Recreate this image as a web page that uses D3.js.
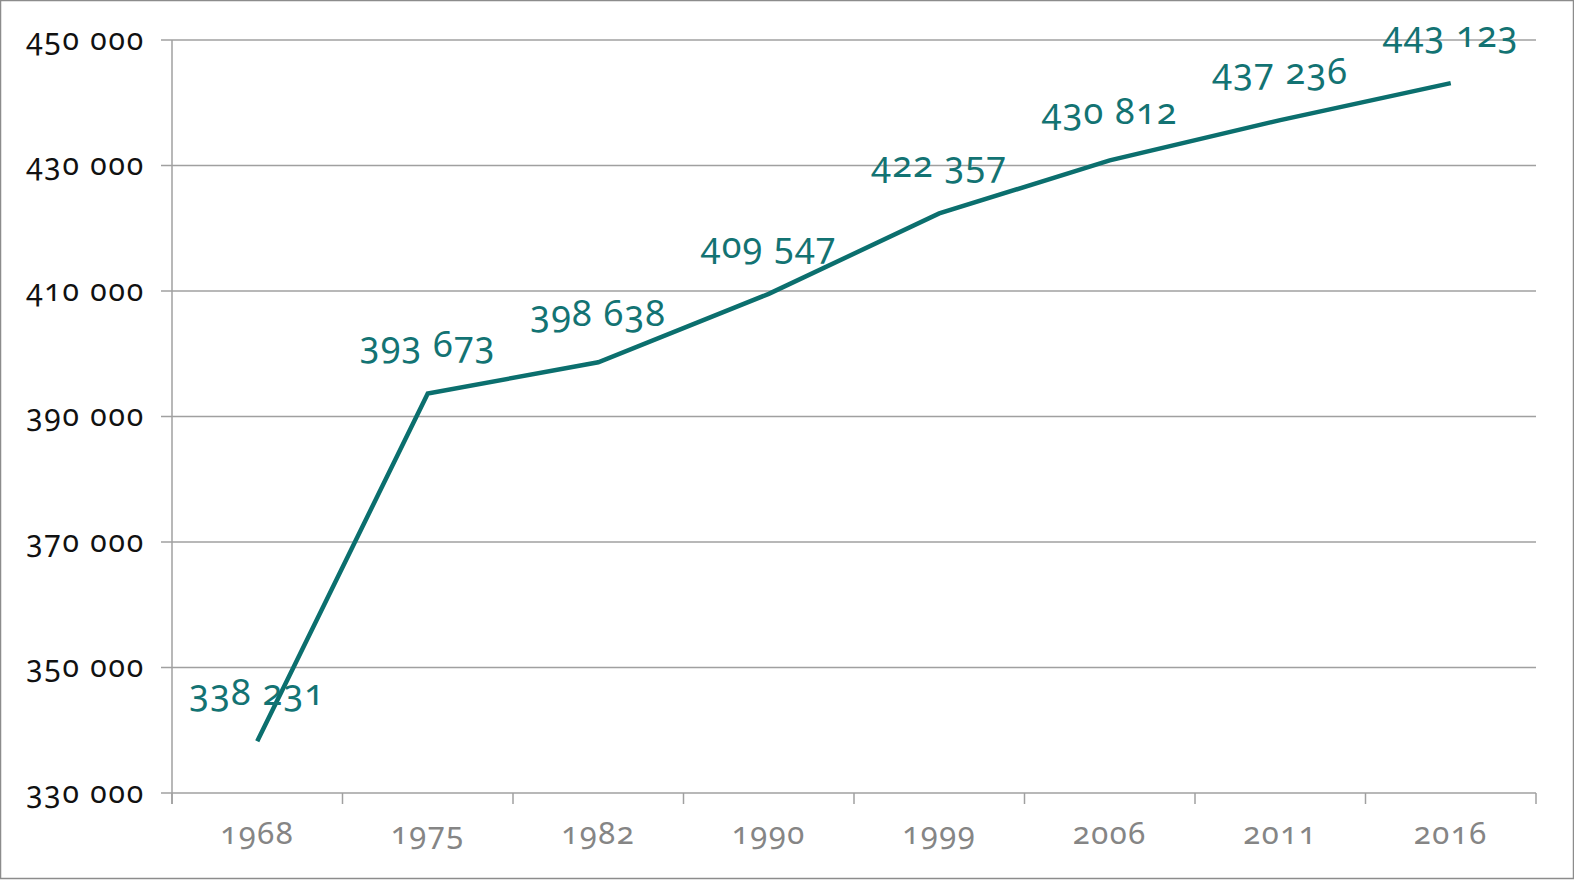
<!DOCTYPE html>
<html>
<head>
<meta charset="utf-8">
<script src="https://cdn.jsdelivr.net/npm/d3@7"></script>
<style>
    body { margin: 0; background: #fff; }
    svg text { font-family: "Noto Sans", "Open Sans", sans-serif; font-variant-numeric: oldstyle-nums; }
</style>
</head>
<body>
<div id="chart"></div>
<script>
    "use strict";

    // data
    const years = ["1968", "1975", "1982", "1990", "1999", "2006", "2011", "2016"];
    const population = [338231, 393673, 398638, 409547, 422357, 430812, 437236, 443123];
    const yTicks = [330000, 350000, 370000, 390000, 410000, 430000, 450000];

    const width = 1574;
    const height = 880;
    const margin = { top: 40, right: 38, bottom: 87, left: 172 };
    const teal = "#0b6f6e";

    // format numbers with a space as thousands separator
    const fmt = (v) => d3.format(",")(v).replace(/,/g, " ");

    const svg = d3.select("#chart").append("svg").attr("width", width).attr("height", height);

    // outer border
    svg.append("rect")
        .attr("x", 0.5).attr("y", 0.5)
        .attr("width", width - 1).attr("height", height - 2)
        .attr("fill", "#fff").attr("stroke", "#8c8c8c").attr("stroke-width", 1.5);

    const x = d3.scaleBand().domain(years).range([margin.left, width - margin.right]);
    const y = d3.scaleLinear().domain([330000, 450000]).range([height - margin.bottom, margin.top]);

    // horizontal gridlines
    svg.append("g")
        .selectAll("line")
        .data(yTicks)
        .join("line")
        .attr("x1", margin.left - 11)
        .attr("x2", width - margin.right)
        .attr("y1", (d) => y(d))
        .attr("y2", (d) => y(d))
        .attr("stroke", "#a0a0a0")
        .attr("stroke-width", 1.5);

    // y axis line
    svg.append("line")
        .attr("x1", margin.left).attr("x2", margin.left)
        .attr("y1", y(450000)).attr("y2", y(330000) + 11)
        .attr("stroke", "#a0a0a0").attr("stroke-width", 1.5);

    // x tick marks at band edges
    const edges = years.map((d) => x(d)).concat([x(years[years.length - 1]) + x.bandwidth()]);
    svg.append("g")
        .selectAll("line")
        .data(edges)
        .join("line")
        .attr("x1", (d) => d).attr("x2", (d) => d)
        .attr("y1", y(330000)).attr("y2", y(330000) + 11)
        .attr("stroke", "#a0a0a0").attr("stroke-width", 1.5);

    // y labels
    svg.append("g")
        .selectAll("text")
        .data(yTicks)
        .join("text")
        .attr("x", 145)
        .attr("y", (d) => y(d))
        .attr("dy", "0.32em")
        .attr("text-anchor", "end")
        .attr("font-size", 30)
        .attr("letter-spacing", 1.8)
        .attr("fill", "#111")
        .text(fmt);

    // x labels
    svg.append("g")
        .selectAll("text")
        .data(years)
        .join("text")
        .attr("x", (d) => x(d) + x.bandwidth() / 2)
        .attr("y", 833)
        .attr("dy", "0.35em")
        .attr("text-anchor", "middle")
        .attr("font-size", 31)
        .attr("letter-spacing", 1.5)
        .attr("fill", "#858585")
        .text((d) => d);

    // line
    const line = d3.line()
        .x((d, i) => x(years[i]) + x.bandwidth() / 2)
        .y((d) => y(d));

    svg.append("path")
        .datum(population)
        .attr("d", line)
        .attr("fill", "none")
        .attr("stroke", teal)
        .attr("stroke-width", 4.5);

    // value labels
    svg.append("g")
        .selectAll("text")
        .data(population)
        .join("text")
        .attr("x", (d, i) => x(years[i]) + x.bandwidth() / 2)
        .attr("y", (d) => y(d) - 36)
        .attr("text-anchor", "middle")
        .attr("font-size", 36)
        .attr("letter-spacing", 1.2)
        .attr("fill", "#137373")
        .text(fmt);
</script>
</body>
</html>
